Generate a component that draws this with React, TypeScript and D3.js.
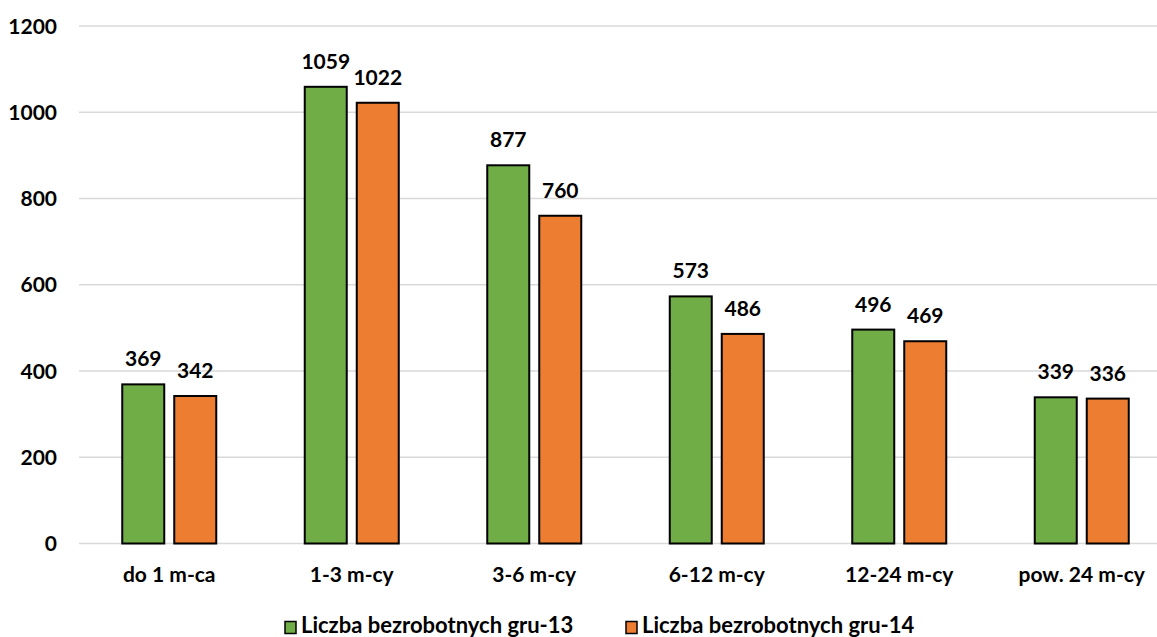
import React from "react";
import * as d3 from "d3";

const categories = ["do 1 m-ca", "1-3 m-cy", "3-6 m-cy", "6-12 m-cy", "12-24 m-cy", "pow. 24 m-cy"];
const series13 = [369, 1059, 877, 573, 496, 339];
const series14 = [342, 1022, 760, 486, 469, 336];
const seriesNames = ["Liczba bezrobotnych gru-13", "Liczba bezrobotnych gru-14"];
const yTicks = [0, 200, 400, 600, 800, 1000, 1200];

const W = 1157;
const H = 637;
const colors = ["#70AD47", "#ED7D31"];
const FONT = "Lato, sans-serif";

export default function App() {
  const x = d3.scaleBand<string>().domain(categories).range([78, 1173]);
  const y = d3.scaleLinear().domain([0, 1200]).range([543.5, 26]);
  const barW = 42;
  const gap = 10;
  const all = [series13, series14];
  const legendX = [285, 626];
  return (
    <svg width={W} height={H} style={{ position: "absolute", left: 0, top: 0, background: "#fff" }}>
      {yTicks.map((t) => (
        <g key={t}>
          <line x1={79} x2={1173} y1={y(t)} y2={y(t)} stroke="#D9D9D9" strokeWidth={1.5} />
          <text x={57} y={y(t) + 7.5} textAnchor="end" fontFamily={FONT} fontWeight={700} fontSize={21} fill="#000">
            {t}
          </text>
        </g>
      ))}
      {categories.map((c, i) => {
        const cx = (x(c) as number) + x.bandwidth() / 2;
        return (
          <g key={c}>
            {all.map((s, k) => {
              const bx = k === 0 ? cx - gap / 2 - barW : cx + gap / 2;
              const v = s[i];
              return (
                <g key={k}>
                  <rect x={bx} y={y(v)} width={barW} height={y(0) - y(v)} fill={colors[k]} stroke="#000" strokeWidth={2} />
                  <text x={bx + barW / 2} y={y(v) - 18} textAnchor="middle" fontFamily={FONT} fontWeight={700} fontSize={21} fill="#000">
                    {v}
                  </text>
                </g>
              );
            })}
            <text x={cx} y={582} textAnchor="middle" fontFamily={FONT} fontWeight={700} fontSize={21} fill="#000">
              {c}
            </text>
          </g>
        );
      })}
      {seriesNames.map((n, k) => {
        const lx = legendX[k];
        return (
          <g key={n}>
            <rect x={lx} y={621.5} width={11} height={12} fill={colors[k]} stroke="#000" strokeWidth={1.5} />
            <text x={lx + 16} y={633} fontFamily={FONT} fontWeight={700} fontSize={22} fill="#000">
              {n}
            </text>
          </g>
        );
      })}
    </svg>
  );
}
